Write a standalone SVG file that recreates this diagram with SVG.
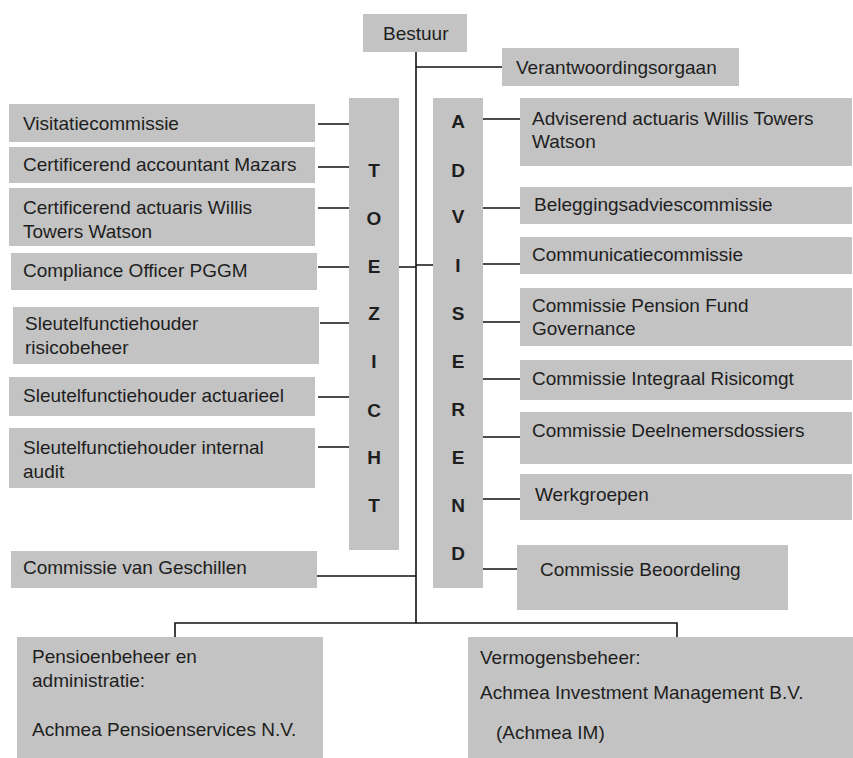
<svg xmlns="http://www.w3.org/2000/svg" width="853" height="758" viewBox="0 0 853 758">
<style>
.box{fill:#c3c3c3}
.t{font-family:"Liberation Sans",Arial,sans-serif;font-size:19px;fill:#1e1e1e}
.l{font-family:"Liberation Sans",Arial,sans-serif;font-size:19px;font-weight:bold;fill:#1e1e1e;text-anchor:middle}
.c{stroke:#111;stroke-width:1.6;fill:none}
</style>
<rect width="853" height="758" fill="#fff"/>
<g id="connectors" class="c">
<path d="M416 52V623"/>
<path d="M416 67H502"/>
<path d="M318 124H349M318 167H349M318 208H349M318 267H349M320 323H349M318 397H349M318 447H349"/>
<path d="M399 267H416M416 265H433"/>
<path d="M317 576H416"/>
<path d="M483 119H520M483 208H520M483 264H520M483 322H520M483 379H520M483 437H520M483 499H520M483 569H517"/>
<path d="M175 637V623H677V637"/>
</g>
<g id="bestuur"><rect class="box" x="363" y="14" width="104" height="38"/><text class="t" x="383" y="40">Bestuur</text></g>
<g id="verantwoordingsorgaan"><rect class="box" x="502" y="48" width="237" height="38"/><text class="t" x="516" y="74">Verantwoordingsorgaan</text></g>
<g id="toezicht"><rect class="box" x="349" y="98" width="50" height="452"/>
<text class="l" x="374" y="177">T</text><text class="l" x="374" y="225">O</text><text class="l" x="374" y="273">E</text><text class="l" x="374" y="320">Z</text><text class="l" x="374" y="368">I</text><text class="l" x="374" y="417">C</text><text class="l" x="374" y="464">H</text><text class="l" x="374" y="512">T</text></g>
<g id="adviserend"><rect class="box" x="433" y="98" width="50" height="490"/>
<text class="l" x="458" y="128">A</text><text class="l" x="458" y="177">D</text><text class="l" x="458" y="223">V</text><text class="l" x="458" y="272">I</text><text class="l" x="458" y="320">S</text><text class="l" x="458" y="368">E</text><text class="l" x="458" y="416">R</text><text class="l" x="458" y="464">E</text><text class="l" x="458" y="512">N</text><text class="l" x="458" y="560">D</text></g>
<g id="visitatiecommissie"><rect class="box" x="9" y="104" width="306" height="38"/><text class="t" x="23" y="130">Visitatiecommissie</text></g>
<g id="accountant"><rect class="box" x="9" y="147" width="306" height="36"/><text class="t" x="23" y="171">Certificerend accountant Mazars</text></g>
<g id="cert-actuaris"><rect class="box" x="9" y="188" width="306" height="58"/><text class="t" x="23" y="214">Certificerend actuaris Willis</text><text class="t" x="23" y="238">Towers Watson</text></g>
<g id="compliance"><rect class="box" x="11" y="253" width="306" height="37"/><text class="t" x="23" y="277">Compliance Officer PGGM</text></g>
<g id="risicobeheer"><rect class="box" x="13" y="307" width="306" height="57"/><text class="t" x="25" y="330">Sleutelfunctiehouder</text><text class="t" x="25" y="354">risicobeheer</text></g>
<g id="actuarieel"><rect class="box" x="9" y="377" width="306" height="39"/><text class="t" x="23" y="402">Sleutelfunctiehouder actuarieel</text></g>
<g id="internal-audit"><rect class="box" x="9" y="428" width="306" height="60"/><text class="t" x="23" y="454">Sleutelfunctiehouder internal</text><text class="t" x="23" y="478">audit</text></g>
<g id="geschillen"><rect class="box" x="11" y="551" width="306" height="37"/><text class="t" x="23" y="574">Commissie van Geschillen</text></g>
<g id="adv-actuaris"><rect class="box" x="520" y="98" width="332" height="68"/><text class="t" x="532" y="125">Adviserend actuaris Willis Towers</text><text class="t" x="532" y="148">Watson</text></g>
<g id="beleggingsadvies"><rect class="box" x="520" y="187" width="332" height="37"/><text class="t" x="534" y="211">Beleggingsadviescommissie</text></g>
<g id="communicatie"><rect class="box" x="520" y="237" width="332" height="37"/><text class="t" x="532" y="261">Communicatiecommissie</text></g>
<g id="pension-fund"><rect class="box" x="520" y="288" width="332" height="58"/><text class="t" x="532" y="312">Commissie Pension Fund</text><text class="t" x="532" y="335">Governance</text></g>
<g id="integraal"><rect class="box" x="520" y="360" width="332" height="40"/><text class="t" x="532" y="385">Commissie Integraal Risicomgt</text></g>
<g id="deelnemers"><rect class="box" x="520" y="412" width="332" height="52"/><text class="t" x="532" y="437">Commissie Deelnemersdossiers</text></g>
<g id="werkgroepen"><rect class="box" x="520" y="474" width="332" height="46"/><text class="t" x="535" y="501">Werkgroepen</text></g>
<g id="beoordeling"><rect class="box" x="517" y="545" width="271" height="65"/><text class="t" x="540" y="576">Commissie Beoordeling</text></g>
<g id="pensioenbeheer"><rect class="box" x="17" y="637" width="306" height="121"/><text class="t" x="32" y="663">Pensioenbeheer en</text><text class="t" x="32" y="687">administratie:</text><text class="t" x="32" y="736">Achmea Pensioenservices N.V.</text></g>
<g id="vermogensbeheer"><rect class="box" x="468" y="637" width="385" height="121"/><text class="t" x="480" y="664">Vermogensbeheer:</text><text class="t" x="480" y="699">Achmea Investment Management B.V.</text><text class="t" x="496" y="739">(Achmea IM)</text></g>
</svg>
